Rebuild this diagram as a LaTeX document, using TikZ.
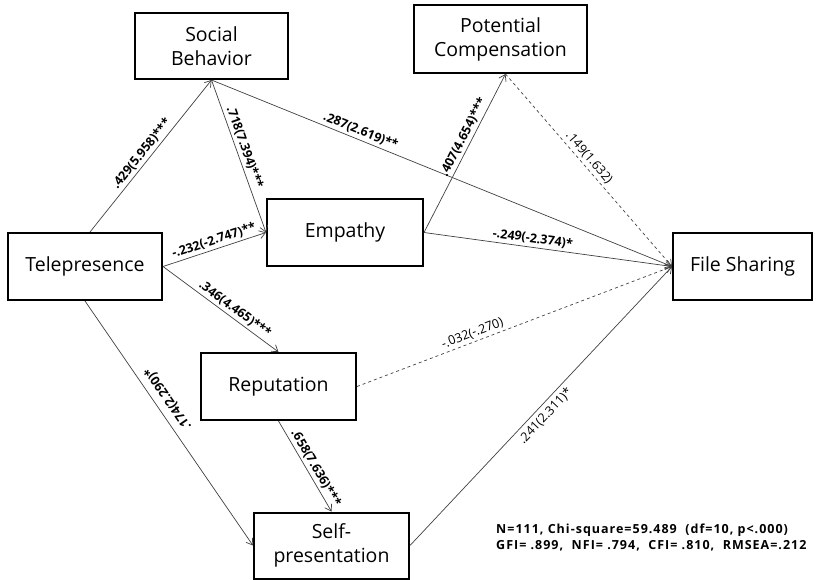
\documentclass[tikz,border=0pt]{standalone}
\usepackage{fontspec}
\setmainfont{Open Sans}
\usetikzlibrary{arrows.meta}
\begin{document}
\begin{tikzpicture}[x=1pt,y=-1pt,
  box/.style={draw, line width=2pt, minimum width=#1, minimum height=67pt, inner sep=0pt, align=center, font=\fontsize{19.5}{24}\selectfont},
  arr/.style={draw=black!75, line width=0.7pt, -{Straight Barb[length=6pt,width=8pt]}},
  darr/.style={arr, dashed},
  lab/.style={font=\fontsize{12.5}{14}\selectfont\bfseries, sloped, inner sep=2.5pt},
  nlab/.style={font=\fontsize{12.5}{14}\selectfont, sloped, inner sep=2.5pt}]
\useasboundingbox (0,0) rectangle (820,579);

\node[box=153pt, minimum height=66pt] (sb) at (211.5,46) {Social\\Behavior};
\node[box=173pt, minimum height=68pt] (pc) at (500.5,39) {Potential\\Compensation};
\node[box=154pt] (tele) at (85,266.5) {Telepresence};
\node[box=156pt] (emp) at (345,232.5) {Empathy};
\node[box=139pt] (fs) at (742.5,266.5) {File Sharing};
\node[box=155pt] (rep) at (278.5,386.5) {Reputation};
\node[box=155pt, minimum height=66pt] (sp) at (331.5,545.5) {Self-\\presentation};

\draw[arr] ([xshift=5pt]tele.north) -- node[lab, above, pos=0.48] {.429(5.958)***} (sb.south);
\draw[arr] (sb.south) -- node[lab, above, pos=0.46] {.718(7.394)***} (emp.west);
\draw[arr] (tele.east) -- node[lab, above, pos=0.52] {-.232(-2.747)**} (emp.west);
\draw[arr] (sb.south) -- node[lab, above, pos=0.317] {.287(2.619)**} (fs.west);
\draw[arr] (emp.east) -- node[lab, above, pos=0.577] {.407(4.654)***} ([xshift=5pt]pc.south);
\draw[darr] ([xshift=5pt]pc.south) -- node[nlab, above, pos=0.464] {.149(1.632)} (fs.west);
\draw[arr] (emp.east) -- node[lab, above, pos=0.434] {-.249(-2.374)*} (fs.west);
\draw[arr] (tele.east) -- node[lab, above, pos=0.58] {.346(4.465)***} (rep.north);
\draw[arr] (tele.south) -- node[lab, below, pos=0.43, allow upside down, rotate=180, inner sep=7pt] {.174(2.290)*} (sp.west);
\draw[arr] (rep.south) -- node[lab, above, pos=0.567] {.658(7.636)***} (sp.north);
\draw[darr] (rep.east) -- node[nlab, above, pos=0.376] {-.032(-.270)} (fs.west);
\draw[arr] (sp.east) -- node[nlab, below, pos=0.489, inner sep=4pt] {.241(2.311)*} (fs.west);

\node[anchor=north west, align=left, font=\fontsize{12.5}{16}\selectfont\bfseries\addfontfeature{LetterSpace=8}, inner sep=0pt] (fit) at (496,524)
  {N=111, Chi-square=59.489~ (df=10, p<.000)\\GFI= .899, ~NFI= .794, ~CFI= .810, ~RMSEA=.212};
\end{tikzpicture}
\end{document}
